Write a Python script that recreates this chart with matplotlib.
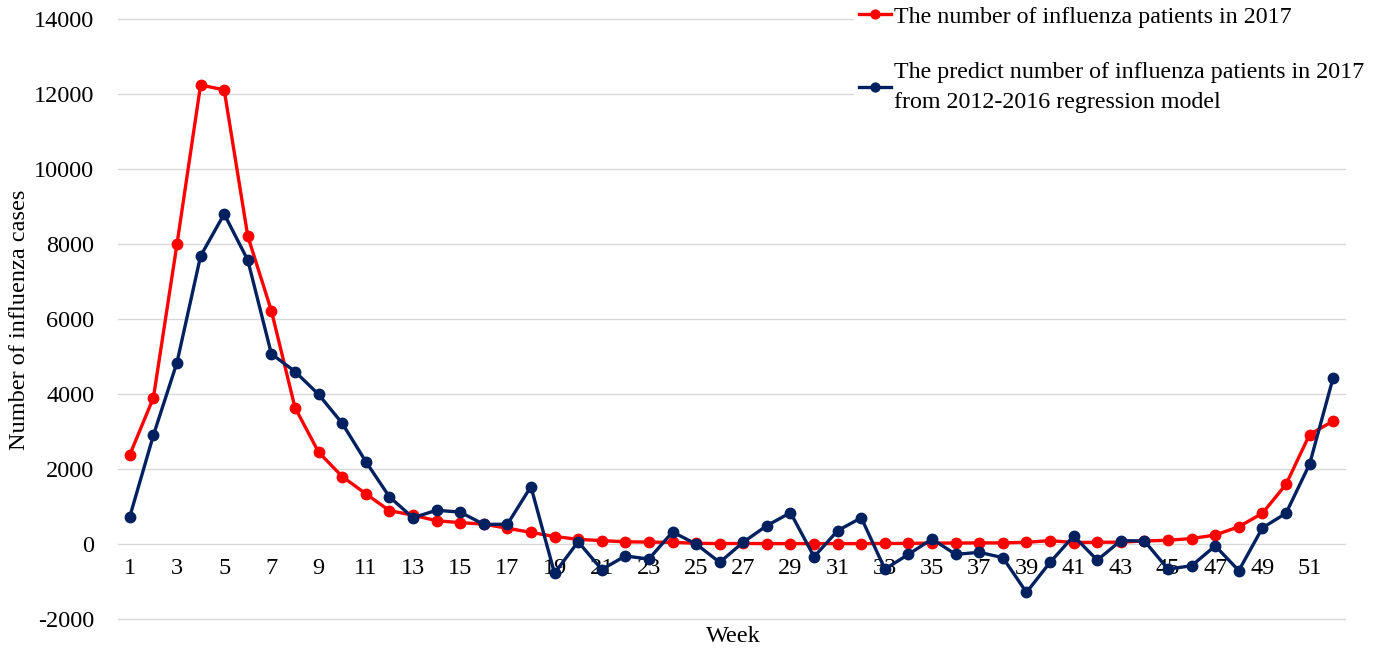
import matplotlib
matplotlib.use("Agg")
import matplotlib.pyplot as plt
import numpy as np

plt.rcParams['font.family'] = ['Liberation Serif', 'DejaVu Serif']
plt.rcParams['axes.unicode_minus'] = False

weeks = np.arange(1, 53)

# 2017 observed influenza patients
actual_2017 = [2380, 3900, 8000, 12240, 12110, 8210, 6220, 3640, 2450, 1800,
               1340, 890, 770, 620, 570, 530, 420, 310, 200, 125,
               90, 60, 50, 45, 20, 10, 15, 10, 10, 10,
               10, 10, 15, 15, 25, 25, 30, 30, 45, 90,
               40, 45, 50, 80, 100, 145, 240, 460, 820, 1590,
               2920, 3280]

# predicted from 2012-2016 regression model
predicted_2017 = [730, 2900, 4840, 7680, 8800, 7570, 5070, 4600, 3990, 3220,
                  2200, 1260, 700, 900, 850, 525, 525, 1530, -780, 60,
                  -680, -320, -400, 320, 0, -490, 50, 490, 836, -340,
                  356, 700, -670, -276, 133, -276, -222, -364, -1290, -490,
                  213, -430, 90, 80, -670, -580, -50, -710, 430, 820,
                  2130, 4440]

label_actual = "The number of influenza patients in 2017"
label_pred = "The predict number of influenza patients in 2017\nfrom 2012-2016 regression model"

fig = plt.figure(figsize=(13.8, 6.49), dpi=100)
ax = fig.add_axes([118/1380, 1 - 619/649, (1345-118)/1380, 600/649])

ax.plot(weeks, actual_2017, color="#FF0000", lw=2.4, marker="o", ms=7.5,
        label=label_actual, zorder=3, clip_on=False)
ax.plot(weeks, predicted_2017, color="#002060", lw=2.4, marker="o", ms=7.5,
        label=label_pred, zorder=4, clip_on=False)

ax.set_ylim(-2000, 14000)
ax.set_xlim(0.5, 52.5)
ax.set_yticks(np.arange(-2000, 14001, 2000))
ax.set_xticks(np.arange(1, 53, 2))
ax.yaxis.grid(True, color="#d9d9d9", lw=1.0)
ax.set_axisbelow(True)
for gl in ax.get_ygridlines():
    gl.set_clip_on(False)
for s in ax.spines.values():
    s.set_visible(False)
ax.spines['bottom'].set_position(('data', 0))
ax.tick_params(axis='both', length=0, labelsize=17.5)
ax.tick_params(axis='y', pad=17)
ax.tick_params(axis='x', pad=10)

fig.text(20/1380, 1 - 320/649, "Number of influenza cases", rotation=90,
         ha="center", va="center", fontsize=17.5)
fig.text(733/1380, 1 - 636/649, "Week", ha="center", va="center", fontsize=17.5)

leg = ax.legend(loc="upper left", bbox_to_anchor=(842/1380, 1 + 11/649),
                bbox_transform=fig.transFigure, frameon=True, fontsize=17.3,
                handlelength=1.35, handletextpad=0.1, labelspacing=1.45,
                borderpad=0.2, markerscale=0.85)
leg.get_frame().set_edgecolor("none")
leg.get_frame().set_facecolor("white")
leg.get_frame().set_alpha(1)
for t in leg.get_texts():
    t.set_linespacing(1.55)

fig.savefig("out.png", dpi=100)
